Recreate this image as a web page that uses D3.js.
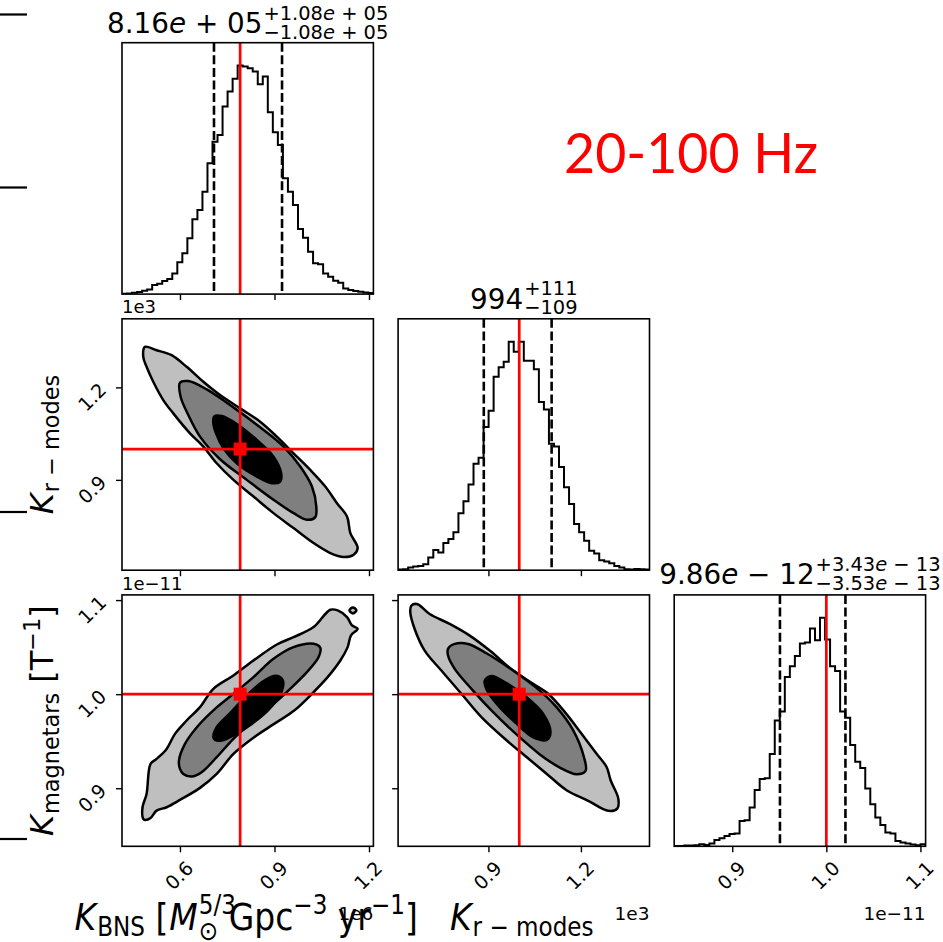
<!DOCTYPE html>
<html><head><meta charset="utf-8">
<script src="https://cdn.jsdelivr.net/npm/d3@7"></script>
<style>body{margin:0;background:#fff} svg text{font-family:'DejaVu Sans',sans-serif}</style>
</head><body>
<svg id="c" width="943" height="942" xmlns="http://www.w3.org/2000/svg"></svg>
<script>
// ---------------- DATA ----------------
// parameter axis ranges (in offset units: 1e6, 1e3, 1e-11)
const domainBNS = [0.416, 1.214];
const domainR   = [0.607, 1.4225];
const domainMag = [0.8383, 1.1055];
const truths    = [0.791, 1.0, 1.0];
const quantBNS  = [0.708, 0.816, 0.924];
const quantR    = [0.885, 0.994, 1.105];
const quantMag  = [0.9507, 0.986, 1.0203];
const ticksBNS = [0.6, 0.9, 1.2];
const ticksR   = [0.9, 1.2];
const ticksMag = [0.9, 1.0, 1.1];
const tickLabelsBNS = ["0.6", "0.9", "1.2"];
const tickLabelsR   = ["0.9", "1.2"];
const tickLabelsMag = ["0.9", "1.0", "1.1"];
const offsetLabels = ["1e6", "1e3", "1e\u221211"];

// 1D histograms (50 bins over each range, relative counts)
const histBNS = [0.3,0.7,1.3,2,3.3,4.7,9,10.3,13,15,20.7,31.7,40.7,55.7,74.7,84,102.3,130.7,152.3,159,
  187.3,202.3,215,228.3,227.3,225.7,222.3,209.7,217.3,181.7,161.7,149,115.7,102.3,89,65,56.3,42.3,30.7,29.7,
  20.7,17.3,13.3,11.3,5.7,4,3,2.3,1.7,1];
const histR = [0.7,1,2.7,3.7,4.3,6,12.7,20,17.7,27,31,37.7,56.7,68.7,85.3,106,112,142.7,158.7,192.6,
  202,207.6,227.6,217.6,227.6,208.6,208.6,200,167.6,160,126,123.3,102.7,82.7,66,46,37.7,29.3,19.3,16.7,
  10,8.7,7,4.3,2.7,1,0.7,1.3,1,0.7];
const histMag = [0.3,0.3,0.7,0.7,1,2,1.3,2.7,6.3,8,10.3,12.3,12.7,25.3,26,38.7,56,67,67.7,92,
  125.3,134.3,168.7,179.3,189.7,202,203,217,205.3,227.7,206,179.3,174.7,134.3,128,101,84.3,78,57.7,42,
  28.7,21.3,13.7,12.7,5.3,3.7,2.7,1.7,1,2];

// 2D credible contours, [x, y] in data units (outer, middle, inner)
const contBNS_R = [
 [[0.4887,1.3315],[0.5258,1.3207],[0.5735,1.3045],[0.6212,1.2668],[0.6742,1.2182],[0.7273,1.1751],[0.7909,1.1319],
  [0.8545,1.0888],[0.9075,1.0402],[0.9605,0.9863],[1.0136,0.9324],[1.0613,0.8784],[1.0984,0.8245],[1.1302,0.7813],
  [1.1408,0.7274],[1.1641,0.6789],[1.1514,0.6573],[1.1196,0.6497],[1.0772,0.6627],[1.0242,0.6950],[0.9605,0.7436],
  [0.8969,0.7921],[0.8333,0.8461],[0.7697,0.9000],[0.7166,0.9539],[0.6742,1.0079],[0.6318,1.0510],[0.5788,1.1157],
  [0.5470,1.1589],[0.5152,1.2182],[0.4940,1.2668],[0.4834,1.2999]],
 [[0.6000,1.2150],[0.6265,1.2204],[0.6848,1.1934],[0.7697,1.1352],[0.8545,1.0704],[0.9287,1.0079],[0.9817,0.9431],
  [1.0189,0.8784],[1.0327,0.8137],[1.0295,0.7792],[1.0030,0.7706],[0.9605,0.7921],[0.8969,0.8353],[0.8121,0.9000],
  [0.7273,0.9669],[0.6636,1.0402],[0.6265,1.1103],[0.6021,1.1697]],
 [[0.7082,1.1050],[0.7326,1.1071],[0.7803,1.0812],[0.8439,1.0294],[0.8969,0.9755],[0.9213,0.9216],[0.9181,0.8946],
  [0.8916,0.8892],[0.8439,0.9108],[0.7803,0.9539],[0.7379,1.0025],[0.7145,1.0510],[0.7060,1.0834]]
];
const contBNS_Mag = [
 [[0.4834,0.8674],[0.4812,0.8798],[0.4940,0.8940],[0.5067,0.9259],[0.5258,0.9312],[0.5576,0.9418],[0.5841,0.9578],
  [0.6212,0.9720],[0.6636,0.9862],[0.7060,1.0057],[0.7697,1.0199],[0.8333,1.0358],[0.9075,1.0528],[0.9605,1.0606],
  [1.0242,1.0713],[1.0772,1.0897],[1.1005,1.0890],[1.1302,1.0819],[1.1461,1.0730],[1.1641,1.0695],[1.1429,1.0624],
  [1.1323,1.0500],[1.1090,1.0358],[1.0687,1.0181],[1.0189,1.0004],[0.9627,0.9826],[0.8990,0.9684],[0.8354,0.9543],
  [0.7697,0.9365],[0.7166,0.9152],[0.6636,0.9004],[0.6000,0.8876],[0.5576,0.8798],[0.5258,0.8762],[0.5067,0.8684],
  [0.4897,0.8663]],
 [[0.6000,0.9206],[0.5968,0.9294],[0.6159,0.9472],[0.6583,0.9667],[0.7113,0.9844],[0.7697,1.0004],[0.8333,1.0181],
  [0.8969,1.0376],[0.9605,1.0500],[1.0242,1.0535],[1.0454,1.0493],[1.0401,1.0394],[1.0030,1.0234],[0.9499,1.0057],
  [0.8916,0.9879],[0.8280,0.9702],[0.7697,0.9525],[0.7166,0.9330],[0.6689,0.9170],[0.6371,0.9124],[0.6106,0.9152]],
 [[0.7060,0.9543],[0.7166,0.9649],[0.7591,0.9798],[0.8121,0.9986],[0.8651,1.0138],[0.9054,1.0195],[0.9266,1.0145],
  [0.9202,1.0004],[0.8810,0.9833],[0.8280,0.9684],[0.7750,0.9571],[0.7326,0.9507],[0.7113,0.9514]]
];
const islandBNS_Mag = [[1.138,1.0890],[1.149,1.0922],[1.160,1.0890],[1.149,1.0858]];
const contR_Mag = [
 [[0.6498,1.0940],[0.6682,1.0958],[0.7094,1.0852],[0.7744,1.0746],[0.8394,1.0622],[0.9043,1.0463],[0.9801,1.0251],
  [1.0451,1.0110],[1.0939,1.0004],[1.1480,0.9809],[1.2022,0.9579],[1.2509,0.9367],[1.2834,0.9226],[1.2964,0.9085],
  [1.3213,0.8890],[1.3180,0.8784],[1.2888,0.8760],[1.2238,0.8866],[1.1534,0.8979],[1.0884,0.9155],[1.0235,0.9332],
  [0.9531,0.9526],[0.8773,0.9756],[0.8123,1.0004],[0.7473,1.0251],[0.6932,1.0463],[0.6607,1.0693],[0.6466,1.0869]],
 [[0.7690,1.0481],[0.7906,1.0534],[0.8339,1.0534],[0.8935,1.0435],[0.9801,1.0251],[1.0560,1.0067],[1.1209,0.9862],
  [1.1751,0.9615],[1.2097,0.9332],[1.2152,0.9184],[1.1859,0.9148],[1.1318,0.9219],[1.0668,0.9360],[0.9910,0.9572],
  [0.9152,0.9809],[0.8448,1.0057],[0.7906,1.0269],[0.7690,1.0410]],
 [[0.8881,1.0145],[0.9097,1.0194],[0.9585,1.0117],[1.0235,0.9968],[1.0776,0.9791],[1.1014,0.9597],[1.0906,0.9516],
  [1.0473,0.9537],[0.9856,0.9703],[0.9314,0.9880],[0.8957,1.0039]]
];
const contourFills = ["#bfbfbf", "#7f7f7f", "#000000"];

// ---------------- LAYOUT ----------------
const svg = d3.select("#c");
const L = 122, T = 42.7, S = 251.4, G = 24.7;
const colX = j => L + j * (S + G);
const rowY = i => T + i * (S + G);
const FONT = "DejaVu Sans";

const domains = [domainBNS, domainR, domainMag];
const ticks = [ticksBNS, ticksR, ticksMag];
const tickLabels = [tickLabelsBNS, tickLabelsR, tickLabelsMag];
const hists = [histBNS, histR, histMag];
const quants = [quantBNS, quantR, quantMag];
const xs = domains.map(d => d3.scaleLinear().domain(d).range([0, S]));
const ys = domains.map(d => d3.scaleLinear().domain(d).range([S, 0]));

const defs = svg.append("defs");
defs.append("clipPath").attr("id", "pclip").append("rect").attr("width", S).attr("height", S);

function fmtFor(k) { return (v) => tickLabels[k][ticks[k].indexOf(v)]; }

function styleAxis(g) {
  g.attr("font-family", FONT).attr("font-size", 19);
  g.select(".domain").remove();
  g.selectAll(".tick line").attr("stroke", "#000").attr("stroke-width", 1.4);
  g.selectAll(".tick text").attr("fill", "#000").style("font-size", "19px");
}

function drawPanel(i, j) {
  const g = svg.append("g").attr("transform", `translate(${colX(j)},${rowY(i)})`);
  const inner = g.append("g").attr("clip-path", "url(#pclip)");
  const x = xs[j];
  if (i === j) {
    const h = hists[j];
    const n = h.length;
    const d = domains[j];
    const w = (d[1] - d[0]) / n;
    const y = d3.scaleLinear().domain([0, 1.1 * d3.max(h)]).range([S, 0]);
    const pts = [[d[0], 0]];
    h.forEach((v, k) => { pts.push([d[0] + k * w, v]); pts.push([d[0] + (k + 1) * w, v]); });
    pts.push([d[1], 0]);
    inner.append("path").attr("d", d3.line().x(p => x(p[0])).y(p => y(p[1]))(pts))
      .attr("fill", "none").attr("stroke", "#000").attr("stroke-width", 2);
    [quants[j][0], quants[j][2]].forEach(q => {
      inner.append("line").attr("x1", x(q)).attr("x2", x(q)).attr("y1", 0).attr("y2", S)
        .attr("stroke", "#000").attr("stroke-width", 2.6).attr("stroke-dasharray", "9,3.6");
    });
    inner.append("line").attr("x1", x(truths[j])).attr("x2", x(truths[j])).attr("y1", 0).attr("y2", S)
      .attr("stroke", "#ff0000").attr("stroke-width", 2.7);
  } else {
    const y = ys[i];
    const conts = (i === 1 && j === 0) ? contBNS_R : (i === 2 && j === 0) ? contBNS_Mag : contR_Mag;
    const line = d3.line().x(p => x(p[0])).y(p => y(p[1])).curve(d3.curveCatmullRomClosed.alpha(0.5));
    conts.forEach((c, k) => {
      inner.append("path").attr("d", line(c)).attr("fill", contourFills[k])
        .attr("stroke", "#000").attr("stroke-width", 2.5).attr("stroke-linejoin", "round");
    });
    if (i === 2 && j === 0) {
      inner.append("path").attr("d", line(islandBNS_Mag)).attr("fill", contourFills[0])
        .attr("stroke", "#000").attr("stroke-width", 2.5);
    }
    inner.append("line").attr("x1", x(truths[j])).attr("x2", x(truths[j])).attr("y1", 0).attr("y2", S)
      .attr("stroke", "#ff0000").attr("stroke-width", 2.7);
    inner.append("line").attr("x1", 0).attr("x2", S).attr("y1", y(truths[i])).attr("y2", y(truths[i]))
      .attr("stroke", "#ff0000").attr("stroke-width", 2.7);
    inner.append("rect").attr("x", x(truths[j]) - 6.5).attr("y", y(truths[i]) - 6.5)
      .attr("width", 13).attr("height", 13).attr("fill", "#ff0000");
    // left axis
    const ay = g.append("g").call(d3.axisLeft(y).tickValues(ticks[i]).tickSize(6)
      .tickFormat(j === 0 ? fmtFor(i) : () => ""));
    styleAxis(ay);
    ay.selectAll(".tick text").attr("x", null).attr("dy", null).attr("text-anchor", "middle")
      .attr("dominant-baseline", "central").attr("transform", "translate(-30,9) rotate(-45)");
  }
  // bottom axis
  const ax = g.append("g").attr("transform", `translate(0,${S})`)
    .call(d3.axisBottom(x).tickValues(ticks[j]).tickSize(6).tickFormat(i === 2 ? fmtFor(j) : () => ""));
  styleAxis(ax);
  ax.selectAll(".tick text").attr("y", null).attr("dy", null).attr("text-anchor", "middle")
    .attr("dominant-baseline", "central").attr("transform", "translate(-1.5,29) rotate(-45)");
  // frame
  g.append("rect").attr("width", S).attr("height", S).attr("fill", "none")
    .attr("stroke", "#000").attr("stroke-width", 1.6);
}

for (let i = 0; i < 3; i++) for (let j = 0; j <= i; j++) drawPanel(i, j);

// --------- math-like text helper ---------
function mathText(parent, pieces, base) {
  const g = parent.append("g");
  let cx = 0, mark = 0, maxX = 0;
  pieces.forEach(p => {
    if (p.mark) mark = cx;
    if (p.reset) cx = mark;
    const fs = base * (p.s || 1);
    const t = g.append("text").attr("x", cx).attr("y", (p.y || 0) * base)
      .attr("font-family", FONT).attr("font-size", fs).attr("fill", "#000")
      .attr("font-style", p.it ? "italic" : "normal").style("white-space", "pre").text(p.t);
    cx += t.node().getComputedTextLength() + (p.gap || 0);
    maxX = Math.max(maxX, cx);
  });
  return { g, width: maxX };
}
function placeCentered(pieces, base, cx, by, extra) {
  const m = mathText(svg, pieces, base);
  m.g.attr("transform", `translate(${cx},${by}) ${extra || ""} translate(${-m.width / 2},0)`);
  return m;
}

// titles
const SUP = -0.47, SUB = 0.215;
placeCentered([
  {t: "8.16"}, {t: "e", it: 1}, {t: " + 05", gap: 1},
  {t: "+1.08", s: .7, y: SUP, mark: 1}, {t: "e", s: .7, y: SUP, it: 1}, {t: " + 05", s: .7, y: SUP},
  {t: "\u22121.08", s: .7, y: SUB, reset: 1}, {t: "e", s: .7, y: SUB, it: 1}, {t: " + 05", s: .7, y: SUB}
], 27.8, colX(0) + S / 2, 33);
placeCentered([
  {t: "994", gap: 1},
  {t: "+111", s: .7, y: SUP, mark: 1},
  {t: "\u2212109", s: .7, y: SUB, reset: 1}
], 27.8, colX(1) + S / 2, 308.5);
placeCentered([
  {t: "9.86"}, {t: "e", it: 1}, {t: " \u2212 12", gap: 1},
  {t: "+3.43", s: .7, y: SUP, mark: 1}, {t: "e", s: .7, y: SUP, it: 1}, {t: " \u2212 13", s: .7, y: SUP},
  {t: "\u22123.53", s: .7, y: SUB, reset: 1}, {t: "e", s: .7, y: SUB, it: 1}, {t: " \u2212 13", s: .7, y: SUB}
], 27.8, colX(2) + S / 2, 584);

// axis labels
placeCentered([
  {t: "K", it: 1, gap: 1}, {t: "BNS", s: .7, y: 0.17}, {t: " [", gap: 1},
  {t: "M", it: 1, gap: 1}, {t: "5/3", s: .7, y: -0.42, mark: 1}, {t: "\u2299", s: .7, y: 0.27, reset: 1},
  {t: " Gpc"}, {t: "\u22123", s: .7, y: -0.42}, {t: " yr"}, {t: "\u22121", s: .7, y: -0.42}, {t: "]"}
], 33, colX(0) + S / 2 - 1.5, 930, "scale(1,1.14)");
placeCentered([
  {t: "K", it: 1, gap: 1}, {t: "r \u2212 modes", s: .7, y: 0.17}
], 33, colX(1) + S / 2 - 2, 930, "scale(1,1.14)");
placeCentered([
  {t: "K", it: 1, gap: 1}, {t: "r \u2212 modes", s: .7, y: 0.2}
], 32, 53, rowY(1) + S / 2, "rotate(-90)");
placeCentered([
  {t: "K", it: 1, gap: 1}, {t: "magnetars", s: .7, y: 0.2}, {t: " [T"}, {t: "\u22121", s: .7, y: -0.42}, {t: "]"}
], 32, 53, rowY(2) + S / 2, "rotate(-90)");

// offset texts
[0, 1, 2].forEach(j => {
  svg.append("text").attr("x", colX(j) + S).attr("y", 920).attr("text-anchor", "end")
    .attr("font-family", FONT).attr("font-size", 18.5).text(offsetLabels[j]);
});
svg.append("text").attr("x", colX(0)).attr("y", rowY(1) - 5.5).attr("font-family", FONT)
  .attr("font-size", 18).text(offsetLabels[1]);
svg.append("text").attr("x", colX(0)).attr("y", rowY(2) - 4.5).attr("font-family", FONT)
  .attr("font-size", 18).text(offsetLabels[2]);

// annotation
svg.append("text").attr("x", 564).attr("y", 173).style("font-family", "Lato, 'Open Sans', sans-serif")
  .attr("font-size", 56).attr("fill", "#ff0000").attr("textLength", 254)
  .attr("lengthAdjust", "spacingAndGlyphs").text("20-100 Hz");

// stray tick marks at left edge (from neighbouring figure)
[14.5, 187.5, 512, 839].forEach(yy => {
  svg.append("line").attr("x1", 0).attr("x2", 27).attr("y1", yy).attr("y2", yy)
    .attr("stroke", "#000").attr("stroke-width", 2.2);
});
</script>
</body></html>
